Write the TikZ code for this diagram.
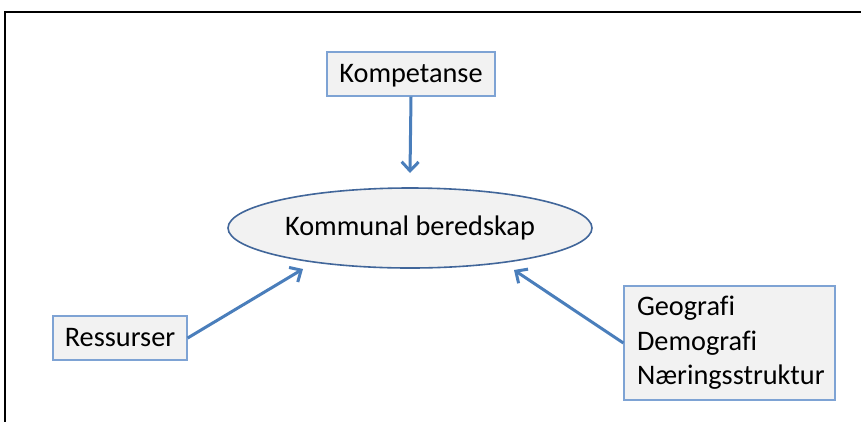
\documentclass[tikz,border=0pt]{standalone}
\usepackage{fontspec}
\setmainfont{Carlito}[Ligatures=CommonOff]
\usetikzlibrary{shapes.geometric,arrows.meta}
\definecolor{boxfill}{HTML}{F2F2F2}
\definecolor{boxline}{HTML}{7EA3D4}
\definecolor{ellline}{HTML}{41669A}
\definecolor{arrowcol}{HTML}{4A7EBB}
\begin{document}
\begin{tikzpicture}[x=1pt,y=-1pt,
  every node/.style={font=\fontsize{28.3pt}{34.5pt}\selectfont},
  plainbox/.style={draw=boxline,fill=boxfill,line width=1.3pt,rectangle,inner sep=0pt},
  centre/.style={draw=ellline,fill=boxfill,line width=1.6pt,ellipse,inner sep=0pt,minimum width=364pt,minimum height=80pt},
  link/.style={draw=arrowcol,line width=3pt,-{Straight Barb[length=9pt,width=17pt,line width=3pt]}}]
\useasboundingbox (0,0) rectangle (861,421);
\fill[white] (0,0) rectangle (861,421);
\draw[line width=2.5pt,line cap=rect] (5,421) -- (5,12) -- (861,12);
\node[plainbox,minimum width=168pt,minimum height=44pt,text depth=2pt] (komp) at (411,74) {Kompetanse};
\node[centre] (ell) at (410,228) {Kommunal beredskap};
\node[plainbox,minimum width=134pt,minimum height=44pt,text depth=2pt] (res) at (120,338) {Ressurser};
\node[plainbox,minimum width=211pt,minimum height=114pt,text width=185pt,align=left,inner xsep=13pt] (fakt) at (729.5,343) {Geografi\\Demografi\\Næringsstruktur};
\coordinate (tipT) at (410,173);
\coordinate (tipL) at (303,269);
\coordinate (tipR) at (514,270);
\draw[link] (komp.south) -- (tipT);
\draw[link] (res.east) -- (tipL);
\draw[link] (fakt.west) -- (tipR);
\end{tikzpicture}
\end{document}
